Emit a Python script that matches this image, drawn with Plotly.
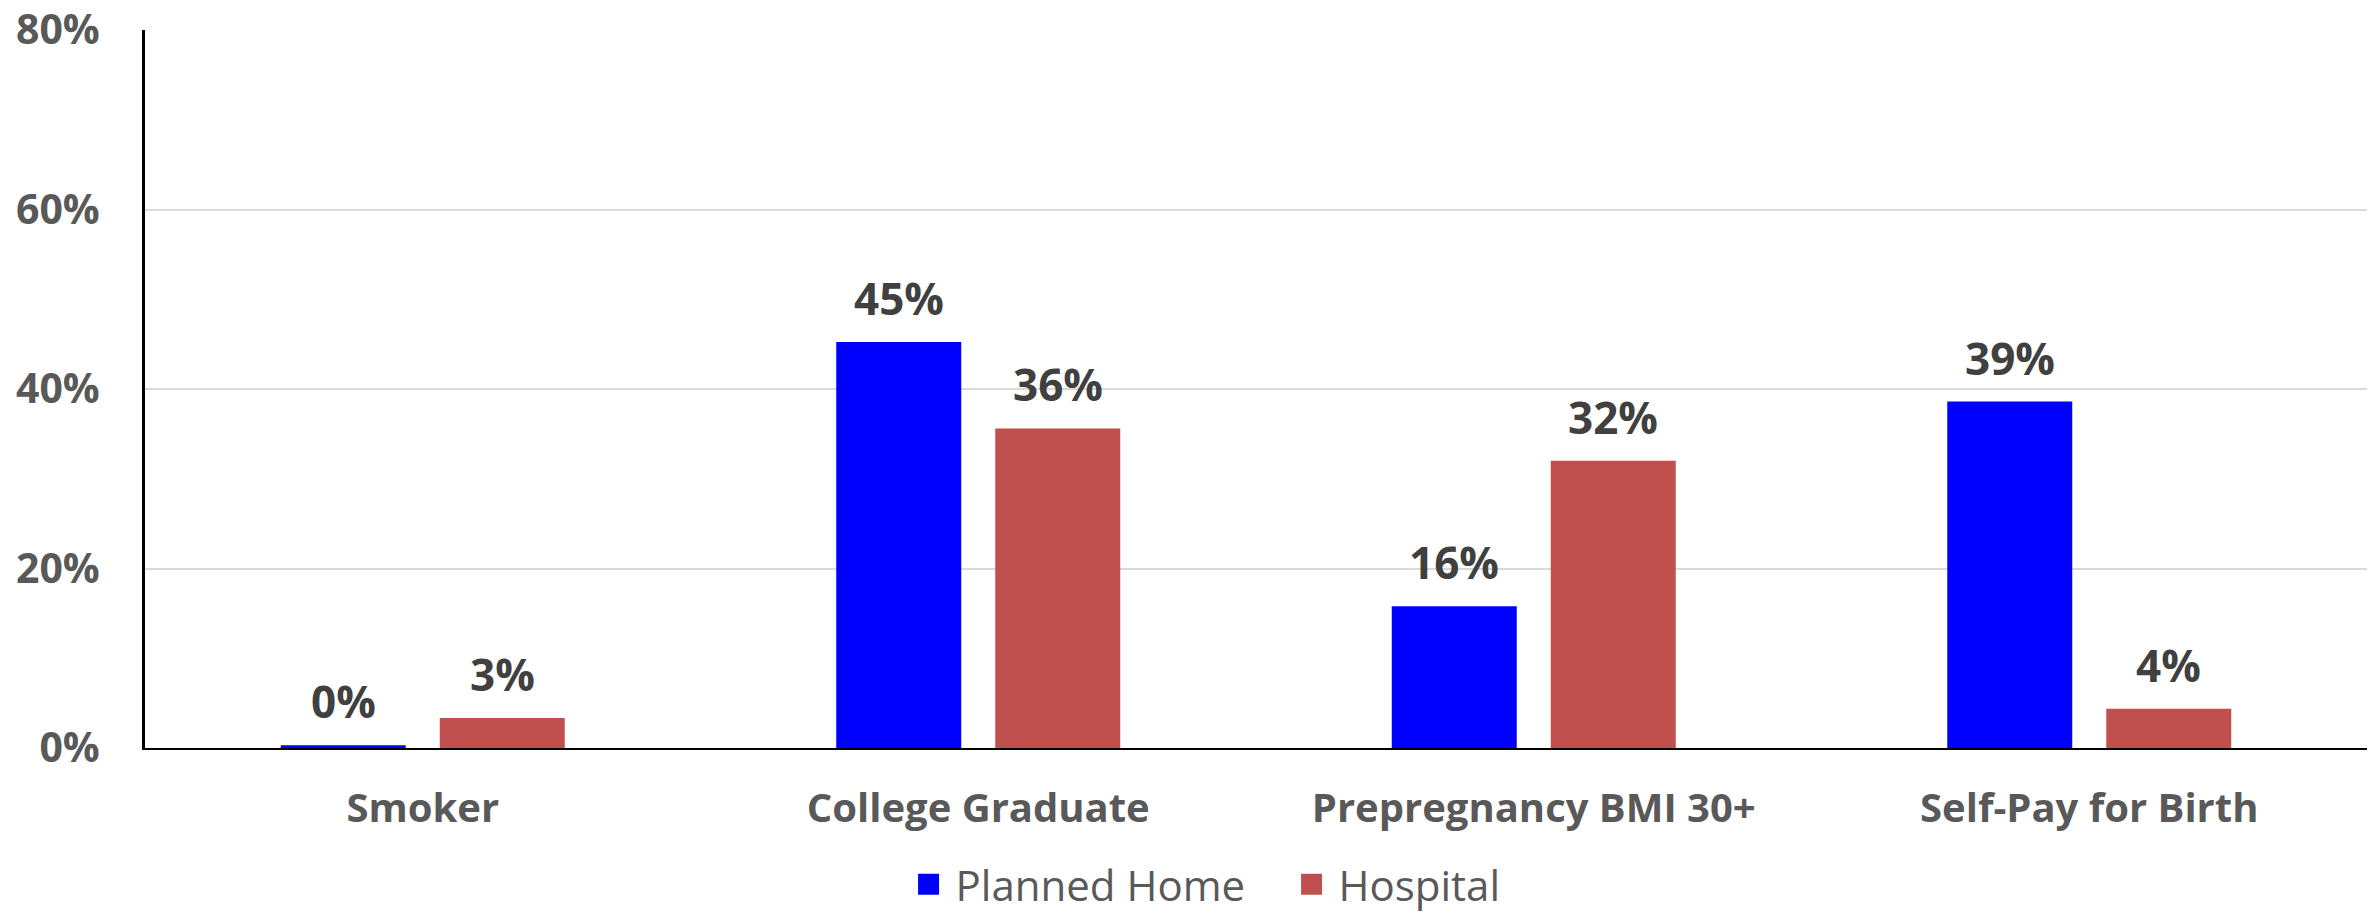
import plotly.graph_objects as go

categories = ["Smoker", "College Graduate", "Prepregnancy BMI 30+", "Self-Pay for Birth"]
planned_home = [0.003, 0.4525, 0.158, 0.386]
hospital = [0.0335, 0.356, 0.32, 0.0436]
series_names = ["Planned Home", "Hospital"]
series_colors = ["#0000FF", "#C0504D"]
y_ticks = [0, 0.2, 0.4, 0.6, 0.8]

FONT = "Open Sans"
W, H = 2369, 913
ML, MR, MT, MB = 145, 2, 30, 165
BARGAP, GROUPGAP = 0.4275, 0.214

fig = go.Figure()
for name, vals, col in zip(series_names, [planned_home, hospital], series_colors):
    fig.add_trace(go.Bar(
        name=name, x=categories, y=vals, showlegend=False,
        marker=dict(color=col, line=dict(width=0)),
    ))
    # legend entry with a larger square swatch
    fig.add_trace(go.Scatter(
        name="\u2009" + name, x=[None], y=[None], mode="markers",
        marker=dict(symbol="square", size=16, color=col, line=dict(width=5, color=col)),
    ))

# data labels positioned through the axis scales
plot_w = W - ML - MR
cat_w = plot_w / len(categories)
slot = cat_w * (1 - BARGAP) / 2
offsets = [-slot / 2, slot / 2]
for vals, dx in zip([planned_home, hospital], offsets):
    for c, v in zip(categories, vals):
        fig.add_annotation(
            x=c, y=v, xref="x", yref="y", text=f"{v:.0%}", showarrow=False,
            xshift=dx, yshift=44, yanchor="middle",
            font=dict(family=FONT, size=44, color="#404040", weight="bold"),
        )

fig.update_layout(
    width=W, height=H,
    margin=dict(l=ML, r=MR, t=MT, b=MB, autoexpand=False),
    paper_bgcolor="white", plot_bgcolor="white",
    barmode="group", bargap=BARGAP, bargroupgap=GROUPGAP,
    font=dict(family=FONT),
    legend=dict(
        orientation="h", x=0.516, xanchor="center", y=-0.19, yanchor="middle",
        font=dict(family=FONT, size=42, color="#595959"),
        itemwidth=30, entrywidth=338, entrywidthmode="pixels",
    ),
)
fig.update_xaxes(
    showline=True, linecolor="black", linewidth=2, automargin=False,
    tickfont=dict(family=FONT, size=40, color="#595959", weight="bold"),
    ticks="", ticklabelstandoff=24,
)
fig.update_yaxes(
    range=[0, 0.8], tickvals=y_ticks, tickformat=".0%", automargin=False,
    showline=True, linecolor="black", linewidth=3,
    showgrid=True, gridcolor="#d9d9d9", gridwidth=2,
    zeroline=False,
    tickfont=dict(family=FONT, size=41, color="#595959", weight="bold"),
    ticks="", ticklabelstandoff=34,
)

fig.write_html(
    "out.html",
    config={"displayModeBar": False},
    post_script="document.body.style.margin='0';document.body.style.overflow='hidden';",
)
